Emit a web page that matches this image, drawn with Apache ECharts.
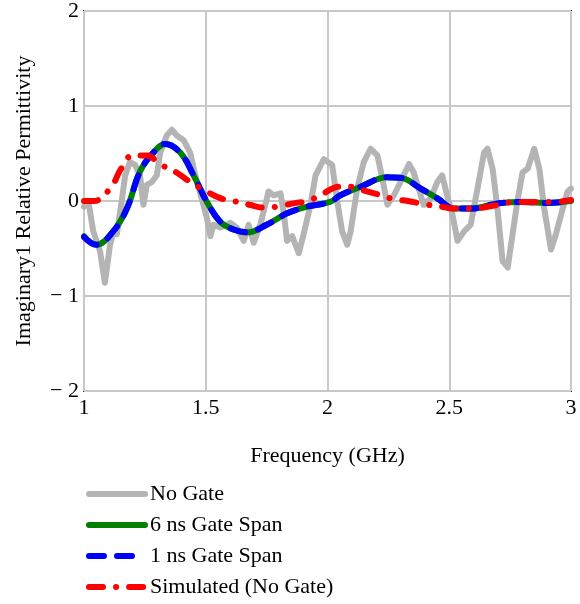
<!DOCTYPE html>
<html>
<head>
<meta charset="utf-8">
<script src="https://cdn.jsdelivr.net/npm/echarts@6/dist/echarts.min.js"></script>
<style>
html,body{margin:0;padding:0;background:#fff;}
#c{width:580px;height:604px;}
</style>
</head>
<body>
<div id="c"></div>
<script>
// ---- data ----
const xTicks = [1, 1.5, 2, 2.5, 3];
const yTicks = [-2, -1, 0, 1, 2];
const seriesNames = ['No Gate', '6 ns Gate Span', '1 ns Gate Span', 'Simulated (No Gate)'];

const noGateFreq = [1.000,1.018,1.038,1.066,1.086,1.107,1.119,1.135,1.155,1.169,1.189,1.210,1.230,1.244,1.258,1.279,1.299,1.313,1.340,1.361,1.381,1.409,1.436,1.457,1.484,1.505,1.519,1.532,1.560,1.601,1.628,1.656,1.676,1.697,1.724,1.758,1.779,1.807,1.821,1.834,1.855,1.882,1.902,1.930,1.951,1.985,1.992,2.019,2.040,2.060,2.081,2.095,2.122,2.149,2.177,2.205,2.225,2.246,2.273,2.307,2.335,2.354,2.383,2.395,2.424,2.451,2.471,2.492,2.513,2.534,2.561,2.588,2.616,2.643,2.657,2.678,2.698,2.719,2.740,2.760,2.780,2.801,2.822,2.849,2.870,2.890,2.918,2.938,2.966,2.986,3.000];
const noGateVals = [-0.06,0.00,-0.32,-0.53,-0.86,-0.46,-0.35,-0.35,0.00,0.27,0.41,0.38,0.27,-0.04,0.17,0.20,0.27,0.51,0.69,0.75,0.69,0.64,0.51,0.27,0.02,-0.18,-0.37,-0.25,-0.28,-0.23,-0.28,-0.42,-0.25,-0.44,-0.25,0.10,0.06,0.08,-0.14,-0.42,-0.37,-0.55,-0.35,-0.04,0.27,0.44,0.46,0.38,0.00,-0.32,-0.46,-0.32,0.13,0.41,0.55,0.48,0.24,-0.04,0.06,0.24,0.39,0.30,0.06,-0.04,0.03,0.20,0.27,0.05,-0.14,-0.42,-0.32,-0.25,0.13,0.51,0.55,0.34,-0.08,-0.63,-0.70,-0.35,0.00,0.30,0.34,0.55,0.34,-0.08,-0.51,-0.35,-0.08,0.10,0.13];

const gateFreq = [1.000,1.050,1.120,1.176,1.230,1.285,1.333,1.395,1.450,1.505,1.560,1.614,1.670,1.750,1.834,1.916,2.010,2.053,2.136,2.245,2.300,2.383,2.450,2.520,2.590,2.700,2.800,2.900,3.000];
const gate6Vals = [-0.37,-0.46,-0.32,-0.08,0.31,0.51,0.60,0.51,0.27,-0.01,-0.22,-0.30,-0.33,-0.25,-0.13,-0.06,-0.01,0.06,0.15,0.25,0.245,0.13,0.03,-0.08,-0.08,-0.025,-0.01,-0.02,0.00];
const gate1Vals = [-0.38,-0.46,-0.32,-0.08,0.31,0.51,0.60,0.51,0.27,-0.01,-0.22,-0.30,-0.33,-0.25,-0.13,-0.06,-0.01,0.06,0.15,0.25,0.245,0.13,0.03,-0.08,-0.08,-0.025,-0.01,-0.02,0.00];

const simFreq = [1.00,1.04,1.07,1.12,1.15,1.20,1.26,1.31,1.38,1.436,1.49,1.56,1.614,1.68,1.74,1.79,1.86,1.92,1.97,2.05,2.10,2.15,2.22,2.27,2.33,2.41,2.45,2.52,2.59,2.68,2.77,2.85,2.93,3.00];
const simVals = [0.00,0.00,0.03,0.18,0.33,0.48,0.48,0.39,0.30,0.20,0.12,0.03,0.00,-0.04,-0.07,-0.06,-0.025,0.00,0.06,0.15,0.15,0.11,0.06,0.02,0.00,-0.04,-0.05,-0.08,-0.08,-0.05,-0.01,-0.01,-0.01,0.01];

const xName = 'Frequency (GHz)';
const yName = 'Imaginary1 Relative Permittivity';

// ---- build ----
const pair = (xs, ys) => xs.map((x, i) => [x, ys[i]]);
const FONT = '"Liberation Serif", "Times New Roman", serif';
const FS = 22;
const chart = echarts.init(document.getElementById('c'), null, {renderer: 'canvas'});

chart.setOption({
  animation: false,
  backgroundColor: '#ffffff',
  textStyle: {fontFamily: FONT, color: '#000'},
  grid: {left: 84, right: 9, top: 7, bottom: 213, show: true, borderColor: '#333333', borderWidth: 2, containLabel: false},
  xAxis: {
    type: 'value', min: xTicks[0], max: xTicks[xTicks.length - 1], interval: 0.5,
    name: xName, nameLocation: 'middle', nameGap: 54,
    nameTextStyle: {fontFamily: FONT, fontSize: FS, color: '#000'},
    axisLine: {show: false}, axisTick: {show: false},
    axisLabel: {fontFamily: FONT, fontSize: FS, color: '#000', margin: 6, formatter: v => String(v)},
    splitLine: {show: true, lineStyle: {color: '#c8c8c8', width: 2}}
  },
  yAxis: {
    type: 'value', min: yTicks[0], max: yTicks[yTicks.length - 1], interval: 1,
    name: yName, nameLocation: 'middle', nameGap: 49,
    nameTextStyle: {fontFamily: FONT, fontSize: FS, color: '#000'},
    axisLine: {show: false}, axisTick: {show: false},
    axisLabel: {fontFamily: FONT, fontSize: FS, color: '#000', margin: 5,
      formatter: v => v < 0 ? '\u2212 ' + Math.abs(v) : String(v)},
    splitLine: {show: true, lineStyle: {color: '#c8c8c8', width: 2}}
  },
  legend: {
    orient: 'vertical', left: 86, top: 483, height: 121, padding: 0, itemGap: 9, itemWidth: 56, itemHeight: 14,
    itemStyle: {opacity: 0},
    lineStyle: {width: 6, cap: 'round'},
    textStyle: {fontFamily: FONT, fontSize: FS, color: '#000'},
    data: seriesNames
  },
  series: [
    {name: seriesNames[0], type: 'line', data: pair(noGateFreq, noGateVals), showSymbol: false, symbol: 'none',
     lineStyle: {color: '#b4b4b4', width: 6, join: 'round', cap: 'round'}, itemStyle: {color: '#b4b4b4'}, z: 1},
    {name: seriesNames[1], type: 'line', data: pair(gateFreq, gate6Vals), smooth: 0.4, showSymbol: false, symbol: 'none',
     lineStyle: {color: '#008000', width: 6, cap: 'round'}, itemStyle: {color: '#008000'}, z: 2},
    {name: seriesNames[2], type: 'line', data: pair(gateFreq, gate1Vals), smooth: 0.4, showSymbol: false, symbol: 'none',
     lineStyle: {color: '#0000ff', width: 6, type: [15, 13], cap: 'round'}, itemStyle: {color: '#0000ff'}, z: 3},
    {name: seriesNames[3], type: 'line', data: pair(simFreq, simVals), smooth: 0.4, showSymbol: false, symbol: 'none',
     lineStyle: {color: '#ff0000', width: 6, type: [14, 13, 0.1, 13], cap: 'round'}, itemStyle: {color: '#ff0000'}, z: 4}
  ]
});
</script>
</body>
</html>
